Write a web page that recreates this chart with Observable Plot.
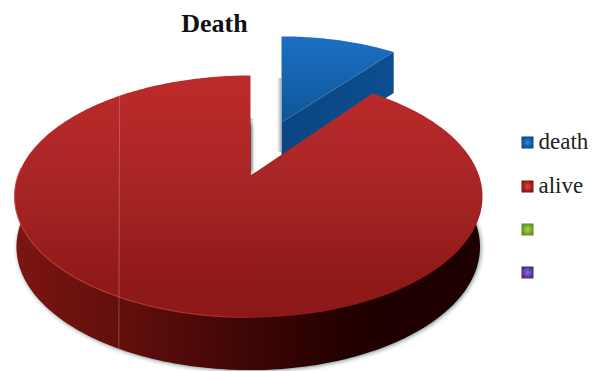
<!DOCTYPE html>
<html>
<head>
<meta charset="utf-8">
<script src="https://cdn.jsdelivr.net/npm/d3@7"></script>
<script src="https://cdn.jsdelivr.net/npm/@observablehq/plot@0.6"></script>
<style>
  html, body { margin: 0; padding: 0; background: #fff; }
  svg { display: block; }
</style>
</head>
<body>
<div id="chart"></div>
<script>
// Slice shares of the pie
const categories = ["death", "alive"];
const shares = [10.4, 89.6];

// Legend entries: two named series and two unnamed ones
const legendKeys = ["death", "alive", "", ""];
const legendRows = [142, 186, 229, 272];
const legendFills = ["url(#keyBlue)", "url(#keyRed)", "url(#keyGreen)", "url(#keyPurple)"];

const chartTitle = "Death";

// Perspective disc: apex position, radii, and foreshortening towards the back
const aliveTop = {ax: 250, ay: 175, rl: 232.4, rr: 228.5, ry: 117.4, k: 0.1736};
const aliveBase = {ax: 250, ay: 225, rl: 230.5, rr: 226, ry: 119.5, k: 0.1736};
const deathTop = {ax: 281, ay: 122, rl: 210, rr: 210, ry: 101, k: 0.1736};
const deathDepth = 41;

// Seam on the red slice, as turns on the top back edge and on the base front edge
const seamTurns = [-0.1102, -0.4195];

function project(turn, d) {
  const u = Math.sin(2 * Math.PI * turn);
  const v = Math.cos(2 * Math.PI * turn);
  const w = 1 / (1 + d.k * v);
  return {x: d.ax + (u < 0 ? d.rl : d.rr) * u * w, y: d.ay - d.ry * v * w};
}

function arc(t0, t1, d) {
  const n = Math.max(2, Math.ceil(Math.abs(t1 - t0) * 360));
  return d3.range(n + 1).map(i => project(t0 + (t1 - t0) * i / n, d));
}

const total = d3.sum(shares);
const deathEnd = shares[categories.indexOf("death")] / total;

const aliveSurface = [{x: aliveTop.ax, y: aliveTop.ay}, ...arc(deathEnd, 1, aliveTop)];
const aliveSide = [{x: aliveBase.ax, y: aliveBase.ay}, ...arc(deathEnd, 1, aliveBase)];
const aliveRim = arc(0.49, 0.76, aliveTop);

const deathApex = {x: deathTop.ax, y: deathTop.ay};
const deathCorner = project(deathEnd, deathTop);
const deathSurface = [deathApex, ...arc(0, deathEnd, deathTop)];
const deathFace = [
  deathApex,
  deathCorner,
  {x: deathCorner.x, y: deathCorner.y + deathDepth},
  {x: deathApex.x, y: deathApex.y + deathDepth}
];

const seam = [project(seamTurns[0], aliveTop), project(seamTurns[1], aliveBase)];

// Soft grey cast beside the two vertical cut edges
const castShadows = [
  {x1: aliveTop.ax, x2: aliveTop.ax + 4, y1: aliveTop.ay - 57, y2: aliveTop.ay - 4},
  {x1: deathApex.x - 4, x2: deathApex.x, y1: deathApex.y - 44, y2: deathApex.y + 30}
];

function gradient(defs, id, stops, x2, y2, radial) {
  const g = defs.append(radial ? "radialGradient" : "linearGradient").attr("id", id);
  if (!radial) g.attr("x1", 0).attr("y1", 0).attr("x2", x2).attr("y2", y2);
  stops.forEach(([o, c, a]) => {
    const s = g.append("stop").attr("offset", o).attr("stop-color", c);
    if (a !== undefined) s.attr("stop-opacity", a);
  });
}

function paints() {
  const defs = d3.create("svg:defs");
  gradient(defs, "redTop", [[0, "#bd2b2b"], [0.45, "#a82525"], [0.85, "#8e1a18"], [1, "#8c1918"]], 0, 1);
  gradient(defs, "redSide", [[0, "#7a1613"], [0.22, "#620f0c"], [0.5, "#3e0606"], [0.72, "#220000"], [1, "#1e0000"]], 1, 0);
  gradient(defs, "redRim", [[0, "#c8403a", 0.8], [0.8, "#c8403a", 0.7], [1, "#c8403a", 0]], 1, 0);
  gradient(defs, "blueTop", [[0, "#1b70c6"], [1, "#0f5596"]], 0, 1);
  gradient(defs, "blueFace", [[0, "#0b4582"], [1, "#0c4f90"]], 1, 0);
  gradient(defs, "castRight", [[0, "#b0b0b0"], [1, "#ffffff"]], 1, 0);
  gradient(defs, "castLeft", [[0, "#ffffff"], [1, "#b4b4b4"]], 1, 0);
  gradient(defs, "keyBlue", [[0, "#2f8ad8"], [0.7, "#125ea6"], [1, "#0d4c8c"]], 0, 0, true);
  gradient(defs, "keyRed", [[0, "#d64a48"], [0.7, "#a82120"], [1, "#861716"]], 0, 0, true);
  gradient(defs, "keyGreen", [[0, "#a8d04e"], [0.7, "#7aa82a"], [1, "#62901e"]], 0, 0, true);
  gradient(defs, "keyPurple", [[0, "#8e6cd0"], [0.7, "#5f3fa0"], [1, "#4a2e88"]], 0, 0, true);
  return defs.node();
}

const serif = "'Liberation Serif', serif";

const chart = Plot.plot({
  width: 598,
  height: 371,
  margin: 0,
  x: {domain: [0, 598], range: [0, 598], axis: null},
  y: {domain: [0, 371], range: [0, 371], axis: null},
  style: {background: "#fff"},
  marks: [
    paints,
    // Grey cast on the white gap
    Plot.rect(castShadows.slice(0, 1), {x1: "x1", x2: "x2", y1: "y1", y2: "y2", fill: "url(#castRight)"}),
    Plot.rect(castShadows.slice(1), {x1: "x1", x2: "x2", y1: "y1", y2: "y2", fill: "url(#castLeft)"}),
    // Blue slice: cut face then top surface
    Plot.line(deathFace, {x: "x", y: "y", fill: "url(#blueFace)", stroke: "none"}),
    Plot.line(deathSurface, {x: "x", y: "y", fill: "url(#blueTop)", stroke: "none"}),
    // Red slice: base with its soft shadow, then top surface, rim and seam
    Plot.line(aliveSide, {
      x: "x", y: "y", fill: "url(#redSide)", stroke: "none",
      imageFilter: "drop-shadow(1px 1px 2px rgba(70,100,100,0.7))"
    }),
    Plot.line(aliveSurface, {x: "x", y: "y", fill: "url(#redTop)", stroke: "none"}),
    Plot.line(aliveRim, {x: "x", y: "y", stroke: "url(#redRim)", strokeWidth: 1.2}),
    Plot.line(seam, {x: "x", y: "y", stroke: "#e8b0a8", strokeOpacity: 0.35, strokeWidth: 1}),
    // Title
    Plot.text([chartTitle], {
      x: () => 214, y: () => 23, text: d => d,
      fontFamily: serif, fontWeight: "bold", fontSize: 26, fill: "#111"
    }),
    // Legend
    Plot.dot(legendKeys, {
      x: () => 527, y: (d, i) => legendRows[i], symbol: "square", r: 6.8,
      fill: (d, i) => legendFills[i], stroke: "none"
    }),
    Plot.text(legendKeys.filter(d => d), {
      x: () => 538, y: (d, i) => legendRows[i] - 0.5, text: d => d,
      textAnchor: "start", fontFamily: serif, fontSize: 23, fill: "#222"
    })
  ]
});

document.getElementById("chart").append(chart);
</script>
</body>
</html>
